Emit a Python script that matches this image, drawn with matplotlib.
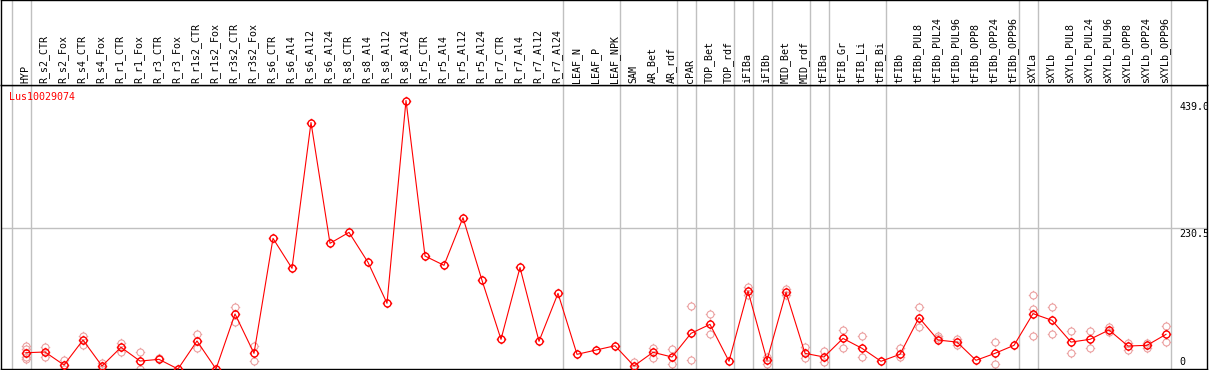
import matplotlib
matplotlib.use("Agg")
import matplotlib.pyplot as plt
import matplotlib.transforms as mtransforms
from matplotlib.path import Path

GENE = "Lus10029074"

SAMPLES = [
    "HYP", "R_s2_CTR", "R_s2_Fox", "R_s4_CTR", "R_s4_Fox", "R_r1_CTR", "R_r1_Fox",
    "R_r3_CTR", "R_r3_Fox", "R_r1s2_CTR", "R_r1s2_Fox", "R_r3s2_CTR", "R_r3s2_Fox",
    "R_s6_CTR", "R_s6_Al4", "R_s6_Al12", "R_s6_Al24", "R_s8_CTR", "R_s8_Al4",
    "R_s8_Al12", "R_s8_Al24", "R_r5_CTR", "R_r5_Al4", "R_r5_Al12", "R_r5_Al24",
    "R_r7_CTR", "R_r7_Al4", "R_r7_Al12", "R_r7_Al24", "LEAF_N", "LEAF_P", "LEAF_NPK",
    "SAM", "AR_Bet", "AR_rdf", "cPAR", "TOP_Bet", "TOP_rdf", "iFIBa", "iFIBb",
    "MID_Bet", "MID_rdf", "tFIBa", "tFIB_Gr", "tFIB_Li", "tFIB_Bi", "tFIBb",
    "tFIBb_PUL8", "tFIBb_PUL24", "tFIBb_PUL96", "tFIBb_OPP8", "tFIBb_OPP24",
    "tFIBb_OPP96", "sXYLa", "sXYLb", "sXYLb_PUL8", "sXYLb_PUL24", "sXYLb_PUL96",
    "sXYLb_OPP8", "sXYLb_OPP24", "sXYLb_OPP96",
]

MEANS = [
    26.6, 27.8, 6.5, 47.4, 4.9, 35.5, 13.0, 15.8, 0.0, 45.8, 0.0, 90.0, 25.6,
    213.6, 164.6, 403.0, 205.5, 223.4, 174.4, 107.4, 439.0, 184.7, 169.5, 247.4,
    145.0, 48.5, 166.0, 45.3, 123.7, 24.0, 31.0, 38.0,
    5.0, 27.3, 19.6, 58.3, 73.0, 12.6, 127.5, 14.2, 125.3, 25.6, 19.6, 50.0,
    33.8, 12.6, 24.0, 84.0, 47.4, 44.0, 14.2, 25.6, 38.7, 90.5, 79.6, 44.0,
    48.5, 63.8, 37.6, 38.7, 56.7,
]

# individual replicates (only those visible apart from the mean)
REPLICATES = [
    [38, 32, 20, 16], [36, 20], [15, 0], [54, 39], [10, 0], [43, 28], [27, 0],
    [18], [], [57, 34], [], [101, 77], [38, 12.5],
    [], [], [], [], [], [], [], [], [], [], [], [], [], [], [], [], [], [], [],
    [12, 0], [35, 18.5], [32, 7.7], [102.5, 14], [89.4, 56.7], [], [134.5, 121],
    [20, 7.6], [130, 121], [35.5, 18.5], [29, 11], [63, 34], [53.4, 20], [],
    [34, 19], [101, 69], [54.5, 50], [48.5, 39], [], [44, 7.6], [],
    [120.4, 97.5, 54.5], [101, 58], [61.6, 25.6], [61.6, 34], [68, 60],
    [42, 31.6], [42.5, 34], [70, 43.6],
]

# last sample index of each tissue group
GROUP_ENDS = [-1, 0, 28, 31, 34, 35, 37, 38, 39, 41, 42, 45, 52, 53, 60]
Y_TICKS = [0, 230.5, 439.0]
Y_TICK_LABELS = ["0", "230.5", "439.0"]

W, H = 1209, 370
RED = "#ff0000"
PINK = "#eba0a0"
GRID = "#c0c0c0"
FONT = dict(family="DejaVu Sans Mono", fontsize=7.2)

# circle marker with four small ticks
circle = Path.unit_circle()
ticks = [Path([(0, 1), (0, 1.35)]), Path([(0, -1), (0, -1.35)]),
         Path([(1, 0), (1.35, 0)]), Path([(-1, 0), (-1.35, 0)])]
MARKER = Path.make_compound_path(circle, *ticks)

fig = plt.figure(figsize=(W / 100, H / 100), dpi=100)
ax = fig.add_axes([1 / W, 1 / H, 1206 / W, 284 / H])
hdr = fig.add_axes([1 / W, (H - 85) / H, 1206 / W, 85 / H], sharex=ax)

xs = list(range(len(SAMPLES)))
ax.set_xlim(-25 / 19, 1181 / 19)
ax.set_ylim(0, 284 * max(MEANS) / 268.5)
hdr.set_ylim(0, 1)

for a in (ax, hdr):
    a.set_xticks([])
    a.set_yticks([])
    for sp in a.spines.values():
        sp.set_color("black")
        sp.set_linewidth(1)
    for g in GROUP_ENDS:
        a.axvline(g + 0.25, color=GRID, lw=1, zorder=0)
hdr.tick_params(labelbottom=False)

ax.axhline(Y_TICKS[1], color=GRID, lw=1, zorder=0)

# replicates
for x, reps in zip(xs, REPLICATES):
    if reps:
        ax.plot([x] * len(reps), reps, linestyle="none", marker=MARKER,
                markersize=6.8, markerfacecolor="none", markeredgecolor=PINK,
                markeredgewidth=0.8, clip_on=False, zorder=2)

# mean profile
ax.plot(xs, MEANS, color=RED, lw=0.8, marker=MARKER, markersize=6.8,
        markerfacecolor="none", markeredgecolor=RED, markeredgewidth=1.0,
        clip_on=False, zorder=3)

# sample labels in header
btrans = mtransforms.blended_transform_factory(hdr.transData, hdr.transAxes)
for x, name in zip(xs, SAMPLES):
    hdr.text(x - 0.05, 0.025, name, rotation=90, ha="center", va="bottom",
             transform=btrans, **FONT)

# value labels on the right
ytrans = mtransforms.blended_transform_factory(ax.transAxes, ax.transData)
for val, lab in zip(Y_TICKS, Y_TICK_LABELS):
    if val == 0:
        ax.annotate(lab, xy=(0.977, val), xycoords=ytrans, xytext=(0, 2),
                    textcoords="offset pixels", ha="left", va="bottom", **FONT)
    else:
        ax.annotate(lab, xy=(0.977, val), xycoords=ytrans, xytext=(0, -1),
                    textcoords="offset pixels", ha="left", va="top",
                    annotation_clip=False, clip_on=True, **FONT)

ax.text(0.007, 0.9595, GENE, color=RED, ha="left", va="center",
        transform=ax.transAxes, **FONT)

fig.savefig("out.png", dpi=100)
